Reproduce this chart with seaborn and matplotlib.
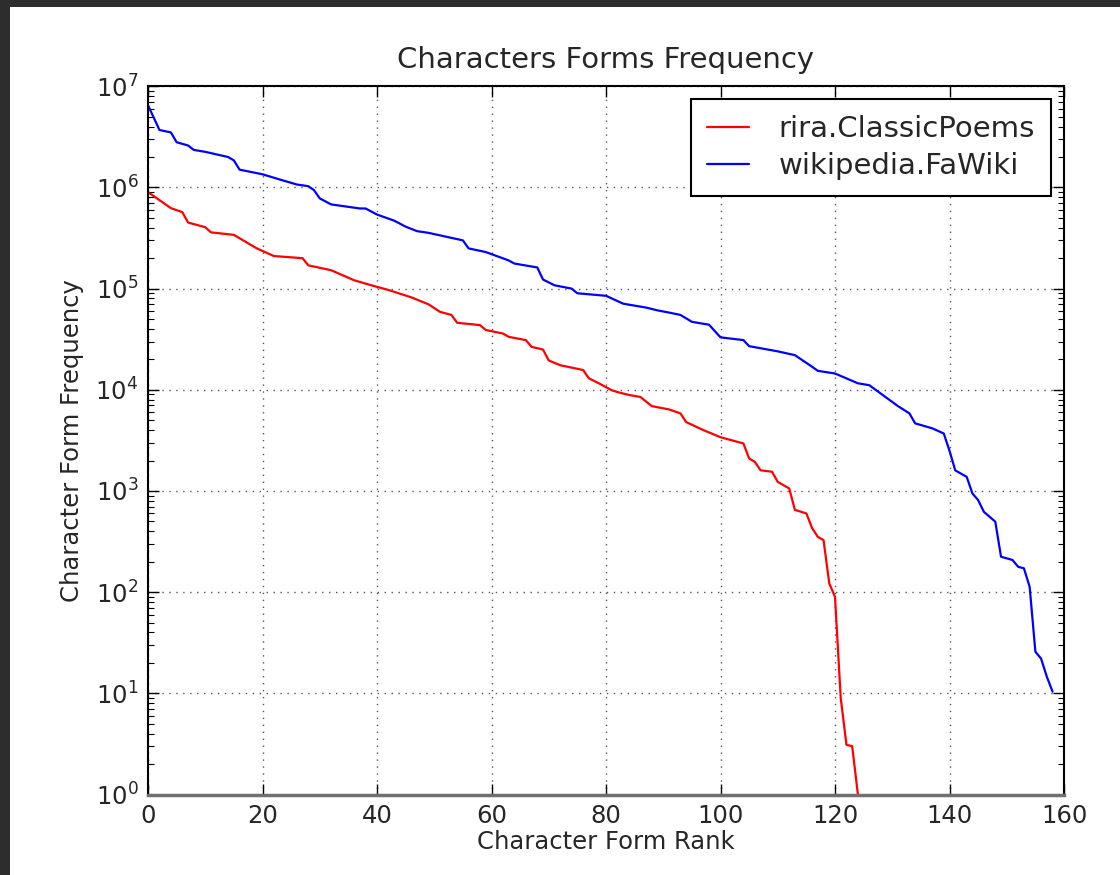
import numpy as np
import pandas as pd
import seaborn as sns
import matplotlib
matplotlib.use("Agg")
import matplotlib.pyplot as plt
from matplotlib.patches import Rectangle
from matplotlib.ticker import NullFormatter

# Values (rank -> frequency, log scale)
rira_rank = [0, 4, 6, 7, 10, 11, 15, 19, 22, 27, 28, 32, 36, 39, 42, 46, 49, 51, 53, 54,
             58, 59, 62, 63, 66, 67, 69, 70, 72, 76, 77, 79, 81, 82, 84, 86, 88, 91, 93, 94,
             97, 100, 104, 105, 106, 107, 109, 110, 112, 113, 115, 116, 117, 118, 119, 120,
             121, 122, 123, 124]
rira_freq = [9.0e5, 6.25e5, 5.7e5, 4.5e5, 4.05e5, 3.6e5, 3.4e5, 2.5e5, 2.1e5, 2.0e5,
             1.7e5, 1.52e5, 1.21e5, 1.08e5, 9.7e4, 8.2e4, 7.0e4, 5.9e4, 5.5e4, 4.6e4,
             4.36e4, 3.9e4, 3.6e4, 3.34e4, 3.1e4, 2.66e4, 2.5e4, 1.95e4, 1.75e4, 1.57e4,
             1.3e4, 1.14e4, 9.9e3, 9.5e3, 8.9e3, 8.5e3, 6.9e3, 6.4e3, 5.85e3, 4.8e3,
             4.0e3, 3.4e3, 2.95e3, 2.1e3, 1.94e3, 1.6e3, 1.55e3, 1.23e3, 1.06e3, 650,
             600, 430, 352, 327, 122, 90, 9, 3.1, 3.0, 1.0]

wiki_rank = [0, 2, 4, 5, 7, 8, 10, 14, 15, 16, 20, 23, 26, 28, 29, 30, 32, 37, 38, 40,
             43, 45, 47, 49, 55, 56, 59, 63, 64, 68, 69, 71, 74, 75, 80, 83, 87, 89, 91, 93,
             95, 98, 100, 104, 105, 110, 113, 116, 117, 120, 124, 126, 131, 133, 134, 137,
             139, 140, 141, 143, 144, 145, 146, 148, 149, 151, 152, 153, 154, 155, 156, 157, 158]
wiki_freq = [6.5e6, 3.7e6, 3.5e6, 2.8e6, 2.6e6, 2.35e6, 2.25e6, 2.0e6, 1.85e6, 1.5e6,
             1.35e6, 1.2e6, 1.07e6, 1.03e6, 9.4e5, 7.8e5, 6.8e5, 6.2e5, 6.2e5, 5.4e5,
             4.7e5, 4.1e5, 3.7e5, 3.56e5, 3.0e5, 2.5e5, 2.3e5, 1.9e5, 1.77e5, 1.62e5,
             1.23e5, 1.08e5, 1.0e5, 9.0e4, 8.5e4, 7.1e4, 6.5e4, 6.1e4, 5.8e4, 5.5e4,
             4.7e4, 4.4e4, 3.3e4, 3.1e4, 2.7e4, 2.4e4, 2.2e4, 1.69e4, 1.54e4, 1.45e4,
             1.16e4, 1.11e4, 6.9e3, 5.85e3, 4.66e3, 4.16e3, 3.7e3, 2.5e3, 1.6e3, 1.38e3,
             946, 813, 623, 497, 224, 208, 178, 172, 113, 25.8, 22, 14.6, 10.4]

sns.set_theme(style="white")
plt.rcParams['font.family'] = ['DejaVu Sans']

fig = plt.figure(figsize=(11.2, 8.75), dpi=100)
# dark frame on the left/top like the screenshot
fig.patch.set_facecolor('#2d2d2d')
fig.patches.append(Rectangle((10/1120, 0), 1, 1 - 7/875, transform=fig.transFigure,
                             facecolor='white', edgecolor='none', zorder=-1))
ax = fig.add_axes([148/1120, 1 - 794.5/875, (1064 - 148)/1120, (794.5 - 86.3)/875])

sns.lineplot(x=rira_rank, y=rira_freq, color='red', lw=1.6, label='rira.ClassicPoems',
             estimator=None, sort=False, ax=ax)
sns.lineplot(x=wiki_rank, y=wiki_freq, color='blue', lw=1.6, label='wikipedia.FaWiki',
             estimator=None, sort=False, ax=ax)

ax.set_yscale('log')
ax.set_ylim(1, 1e7)
ax.set_xlim(0, 160)
ax.set_xticks(np.arange(0, 161, 20))
ax.yaxis.set_minor_formatter(NullFormatter())

ax.grid(True, which='major', color='#555555', linestyle=(0, (1, 4)), linewidth=1)
ax.tick_params(which='both', direction='in', top=True, right=True, bottom=True, left=True,
               color='black', labelsize=17.5, pad=7)
ax.tick_params(which='major', length=8, width=1)
ax.tick_params(which='minor', length=4, width=0.8)

for s in ax.spines.values():
    s.set_visible(True)
    s.set_color('black')
    s.set_linewidth(1.5)
ax.spines['bottom'].set_color('#707070')
ax.spines['bottom'].set_linewidth(2.5)

ax.set_title("Characters Forms Frequency", fontsize=21, pad=13)
ax.set_xlabel("Character Form Rank", fontsize=17.5, labelpad=1)
ax.set_ylabel("Character Form Frequency", fontsize=17.5, labelpad=8)

leg = ax.legend(loc='upper right', fontsize=21, frameon=True, fancybox=False,
                edgecolor='black', framealpha=1, borderaxespad=0.45, borderpad=0.55,
                handlelength=1.45, handletextpad=1.0, labelspacing=0.3)
leg.get_frame().set_linewidth(1.5)

fig.savefig("out.png", dpi=100, facecolor=fig.get_facecolor())
